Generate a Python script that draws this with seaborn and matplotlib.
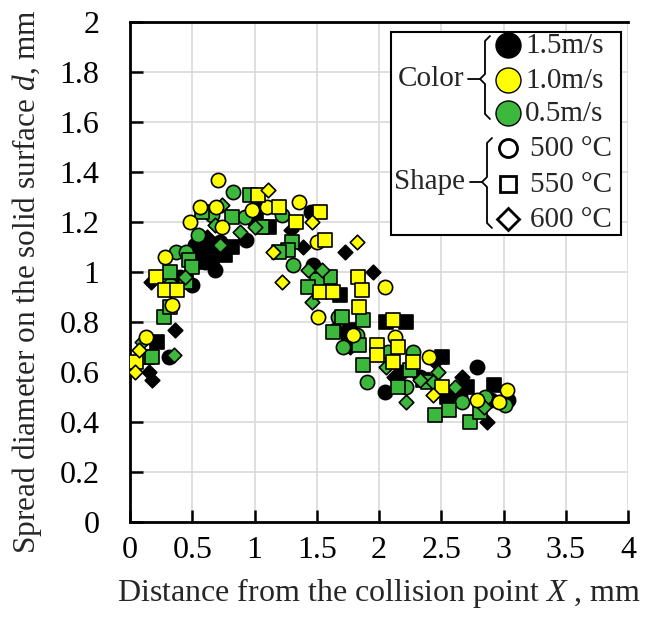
import numpy as np
import pandas as pd
import seaborn as sns
import matplotlib.pyplot as plt
from matplotlib.lines import Line2D
from matplotlib.patches import Rectangle
from matplotlib.ticker import FuncFormatter, MultipleLocator

# Black = 1.5 m/s, yellow = 1.0 m/s, green = 0.5 m/s
# circle = 500 C, square = 550 C, diamond = 600 C

# 1.5 m/s
bc_x = [0.31, 0.40, 0.50, 0.60, 0.68, 0.52, 0.93, 1.45, 1.47, 1.65, 2.05, 2.33, 2.65, 2.79, 3.04,
        0.58, 0.72, 1.75, 2.18, 2.90]
bc_y = [0.66, 0.98, 0.95, 1.04, 1.01, 1.11, 1.13, 1.24, 1.03, 0.77, 0.52, 0.58, 0.51, 0.62, 0.49,
        1.08, 1.12, 0.74, 0.60, 0.49]
bs_x = [0.22, 0.56, 0.64, 0.82, 1.01, 1.12, 1.69, 1.77, 2.06, 2.22, 2.51, 2.55, 2.71, 2.92,
        0.66, 0.76, 1.60, 2.35]
bs_y = [0.72, 1.04, 1.10, 1.10, 1.21, 1.18, 0.91, 0.77, 0.80, 0.80, 0.66, 0.50, 0.54, 0.55,
        1.04, 1.07, 0.95, 0.57]
bd_x = [0.15, 0.18, 0.17, 0.36, 1.02, 1.29, 1.39, 1.73, 1.77, 1.95, 2.45, 2.67, 2.87, 0.62, 2.12]
bd_y = [0.60, 0.57, 0.96, 0.77, 1.26, 1.17, 1.10, 1.08, 0.70, 1.00, 0.64, 0.58, 0.40, 1.14, 0.58]

# 1.0 m/s
yc_x = [0.13, 0.34, 0.28, 0.48, 0.56, 0.71, 0.69, 0.74, 0.98, 1.10, 1.36, 1.50, 1.51, 1.79,
        2.05, 2.13, 2.40, 2.79, 2.96, 3.03]
yc_y = [0.74, 0.87, 1.06, 1.20, 1.26, 1.37, 1.26, 1.18, 1.25, 1.26, 1.28, 1.12, 0.82, 0.75,
        0.94, 0.74, 0.66, 0.49, 0.48, 0.53]
ys_x = [0.05, 0.21, 0.28, 0.38, 1.03, 1.20, 1.33, 1.53, 1.57, 1.53, 1.63, 1.83, 1.86, 1.84,
        2.11, 1.98, 1.98, 2.15, 2.11, 2.27, 2.51]
ys_y = [0.64, 0.98, 0.93, 0.93, 1.31, 1.26, 1.20, 1.24, 1.13, 0.92, 0.92, 0.98, 0.93, 0.86,
        0.81, 0.71, 0.67, 0.70, 0.64, 0.64, 0.54]
yd_x = [0.04, 0.07, 1.11, 1.15, 1.46, 1.22, 1.82, 2.43]
yd_y = [0.60, 0.69, 1.33, 1.08, 1.20, 0.96, 1.12, 0.51]

# 0.5 m/s
gc_x = [0.32, 0.37, 0.45, 0.55, 0.66, 0.83, 0.92, 1.22, 1.31, 1.67, 1.71, 1.82, 1.90, 2.07,
        2.27, 2.22, 2.67, 2.85, 3.01]
gc_y = [0.95, 1.08, 1.08, 1.15, 1.23, 1.32, 1.22, 1.23, 1.03, 0.82, 0.70, 0.75, 0.56, 0.68,
        0.68, 0.54, 0.48, 0.50, 0.47]
gs_x = [0.14, 0.18, 0.27, 0.32, 0.32, 0.47, 0.50, 0.45, 0.58, 0.82, 0.96, 1.06, 1.30, 1.27,
        1.20, 1.61, 1.50, 1.43, 1.70, 1.87, 1.63, 1.84, 1.87, 2.25, 2.15, 2.39, 2.45, 2.56,
        2.73, 2.81]
gs_y = [0.66, 0.66, 0.82, 0.86, 1.00, 1.05, 1.02, 0.96, 1.24, 1.22, 1.31, 1.18, 1.12, 1.09,
        1.08, 0.98, 0.97, 0.94, 0.82, 0.81, 0.76, 0.71, 0.63, 0.61, 0.54, 0.56, 0.43, 0.45,
        0.40, 0.44]
gd_x = [0.10, 0.35, 0.44, 0.68, 0.72, 0.74, 0.88, 1.00, 1.43, 1.54, 1.46, 2.06, 2.22, 2.47,
        2.43, 2.33, 2.61, 2.84]
gd_y = [0.72, 0.67, 0.98, 1.19, 1.11, 1.27, 1.16, 1.18, 1.01, 1.01, 0.88, 0.62, 0.48, 0.60,
        0.56, 0.57, 0.54, 0.46]

speeds = ["1.5m/s", "1.0m/s", "0.5m/s"]
temps = ["500 °C", "550 °C", "600 °C"]

groups = {
    ("1.5m/s", "500 °C"): (bc_x, bc_y), ("1.5m/s", "550 °C"): (bs_x, bs_y), ("1.5m/s", "600 °C"): (bd_x, bd_y),
    ("1.0m/s", "500 °C"): (yc_x, yc_y), ("1.0m/s", "550 °C"): (ys_x, ys_y), ("1.0m/s", "600 °C"): (yd_x, yd_y),
    ("0.5m/s", "500 °C"): (gc_x, gc_y), ("0.5m/s", "550 °C"): (gs_x, gs_y), ("0.5m/s", "600 °C"): (gd_x, gd_y),
}

rows = []
for (sp, tp), (xs, ys) in groups.items():
    for x, y in zip(xs, ys):
        rows.append({"x": x, "y": y, "speed": sp, "temp": tp})
df = pd.DataFrame(rows)

palette = {"1.5m/s": "#000000", "1.0m/s": "#FFFF00", "0.5m/s": "#3CB93C"}
markers = {"500 °C": "o", "550 °C": "s", "600 °C": "D"}
msize = {"500 °C": 105, "550 °C": 98, "600 °C": 55}

sns.set_theme(style="white")
plt.rcParams["font.family"] = ["Liberation Serif", "DejaVu Serif"]
plt.rcParams["mathtext.fontset"] = "custom"
plt.rcParams["mathtext.it"] = "Liberation Serif:italic"
plt.rcParams["mathtext.rm"] = "Liberation Serif"

fig = plt.figure(figsize=(6.55, 6.24), dpi=100)
ax = fig.add_axes([130 / 655, 1 - 522 / 624, 498 / 655, 500 / 624])

# draw speed by speed so colours interleave like the original
for sp in ["1.5m/s", "0.5m/s", "1.0m/s"]:
    for tp in temps:
        sub = df[(df["speed"] == sp) & (df["temp"] == tp)]
        sns.scatterplot(data=sub, x="x", y="y", color=palette[sp], marker=markers[tp],
                        s=msize[tp], edgecolor="black", linewidth=1.2, legend=False,
                        ax=ax, zorder=3)

ax.set_xlim(0, 4)
ax.set_ylim(0, 2)
ax.xaxis.set_major_locator(MultipleLocator(0.5))
ax.yaxis.set_major_locator(MultipleLocator(0.2))
fmt = FuncFormatter(lambda v, p: f"{v:g}")
ax.xaxis.set_major_formatter(fmt)
ax.yaxis.set_major_formatter(fmt)
ax.grid(True, color="#d9d9d9", linewidth=1.2, zorder=0)
ax.set_axisbelow(True)
for side in ["left", "bottom", "top"]:
    ax.spines[side].set_color("black")
    ax.spines[side].set_linewidth(2)
ax.spines["right"].set_visible(False)
ax.tick_params(axis="both", which="major", direction="in", length=9, width=1.8,
               labelsize=23, colors="black", left=True, bottom=True)
ax.tick_params(axis="y", pad=22)
ax.tick_params(axis="x", pad=10)
ax.set_xlabel("Distance from the collision point $X$ , mm", fontsize=23, labelpad=8)
ax.set_ylabel("Spread diameter on the solid surface $d$, mm", fontsize=22.5)
ax.yaxis.set_label_coords(-0.172, 0.48)


# custom legend box with braces
def fx(px):
    return (px - 130) / 498


def fy(py):
    return (522 - py) / 500


T = ax.transAxes
box = Rectangle((fx(391), fy(235)), fx(621) - fx(391), fy(32) - fy(235), transform=T,
                facecolor="white", edgecolor="black", linewidth=1.5, zorder=5)
ax.add_patch(box)


def brace(xp, top, mid, bot, dash_from):
    h = 5
    pts_x = [xp + h, xp, xp, xp - h, xp, xp, xp + h]
    pts_y = [top, top + h, mid - h, mid, mid + h, bot - h, bot]
    ax.add_line(Line2D([fx(v) for v in pts_x], [fy(v) for v in pts_y], transform=T,
                       color="black", linewidth=1.3, zorder=6))
    ax.add_line(Line2D([fx(dash_from), fx(xp - h)], [fy(mid), fy(mid)], transform=T,
                       color="black", linewidth=1.3, zorder=6))


ax.text(fx(431), fy(79), "Color", transform=T, fontsize=21, ha="center", va="center", zorder=6)
brace(485, 36, 79, 119, 468)
ax.text(fx(430), fy(182), "Shape", transform=T, fontsize=21, ha="center", va="center", zorder=6)
brace(487, 138, 182, 228, 470)

for sp, py in zip(speeds, [45, 80, 113]):
    ax.add_line(Line2D([fx(508)], [fy(py)], transform=T, marker="o", markersize=18,
                       markerfacecolor=palette[sp], markeredgecolor="black",
                       markeredgewidth=1, zorder=6))
    ax.text(fx(525), fy(py + 1), sp, transform=T, fontsize=21, ha="left", va="center", zorder=6)

for tp, py, ms in zip(temps, [148, 184, 219], [13, 12, 11.5]):
    ax.add_line(Line2D([fx(508)], [fy(py)], transform=T, marker=markers[tp], markersize=ms,
                       markerfacecolor="white", markeredgecolor="black",
                       markeredgewidth=2, zorder=6))
    ax.text(fx(530), fy(py + 1), tp, transform=T, fontsize=21, ha="left", va="center", zorder=6)

fig.savefig("out.png", dpi=100)
